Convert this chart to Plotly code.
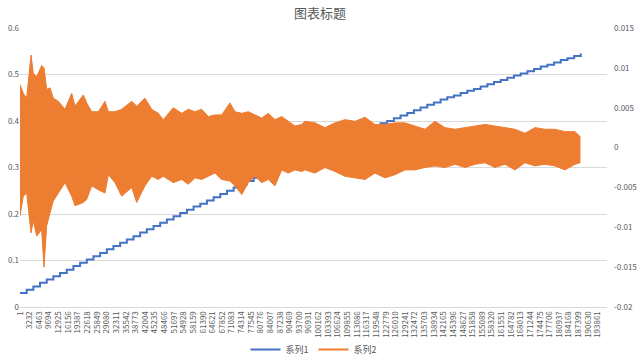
import plotly.graph_objects as go

# ---- data ----
x_tick_labels = [1, 3232, 6463, 9694, 12925, 16156, 19387, 22618, 25849, 29080, 32311, 35542,
                 38773, 42004, 45235, 48466, 51697, 54928, 58159, 61390, 64621, 67852, 71083,
                 74314, 77545, 80776, 84007, 87238, 90469, 93700, 96931, 100162, 103393, 106624,
                 109855, 113086, 116317, 119548, 122779, 126010, 129241, 132472, 135703, 138934,
                 142165, 145396, 148627, 151858, 155089, 158320, 161551, 164782, 168013, 171244,
                 174475, 177706, 180937, 184168, 187399, 190630, 193861]

# 系列1: staircase (left axis)
s1_step_len = 2240
s1_values = [0.030, 0.037, 0.044, 0.052, 0.059, 0.066, 0.073, 0.080, 0.088, 0.095, 0.102,
             0.109, 0.116, 0.124, 0.131, 0.138, 0.145, 0.152, 0.160, 0.167, 0.174,
             0.181, 0.188, 0.195, 0.202, 0.209, 0.216, 0.222, 0.229, 0.236, 0.243, 0.250,
             0.257, 0.264, 0.271, 0.278,
             0.284, 0.290, 0.296, 0.302, 0.309, 0.315, 0.321, 0.327, 0.333, 0.340, 0.346,
             0.352, 0.358, 0.364, 0.371, 0.377, 0.383, 0.389,
             0.395, 0.400, 0.406, 0.412, 0.417, 0.423, 0.429, 0.435, 0.440, 0.446,
             0.451, 0.455, 0.460, 0.465, 0.469, 0.474, 0.479, 0.484, 0.488, 0.493, 0.498,
             0.502, 0.507, 0.512, 0.517, 0.521, 0.526, 0.531, 0.535, 0.540, 0.545]
s1_x = [1 + i * s1_step_len for i in range(len(s1_values))]

# 系列2: dense oscillation (right axis) -- upper / lower envelope
s2_x = [1, 1107, 2248, 3690, 4462, 5603, 7280, 8052, 8958, 10065, 11172, 12850, 15098, 17345,
        18453, 21237, 22378, 24055, 26270, 28518, 29625, 31873, 34120, 37475, 39153, 41938,
        44185, 46400, 48077, 51432, 54250, 56465, 58713, 60960, 63175, 65423, 67670, 70455,
        72133, 74380, 76595, 78843, 81090, 83305, 85553, 87800, 90015, 92263, 94510, 95618,
        98973, 102328, 105683, 109038, 112393, 115748, 119103, 122458, 125813, 129168,
        132523, 135878, 139233, 142588, 145943, 149298, 152653, 156008, 159363, 162718,
        166073, 169428, 172783, 176138, 179493, 182848, 186203, 187880]
s2_upper = [0.0079, 0.0068, 0.0062, 0.0116, 0.0093, 0.0089, 0.0103, 0.0100, 0.0073, 0.0075,
            0.0062, 0.0058, 0.0048, 0.0068, 0.0052, 0.0066, 0.0056, 0.0045, 0.0045, 0.0058,
            0.0045, 0.0045, 0.0048, 0.0058, 0.0052, 0.0062, 0.0048, 0.0043, 0.0035, 0.0050,
            0.0043, 0.0048, 0.0045, 0.0048, 0.0039, 0.0041, 0.0041, 0.0056, 0.0045, 0.0043,
            0.0045, 0.0041, 0.0037, 0.0043, 0.0035, 0.0039, 0.0033, 0.0027, 0.0029, 0.0033,
            0.0031, 0.0025, 0.0031, 0.0035, 0.0033, 0.0038, 0.0029, 0.0029, 0.0031, 0.0031,
            0.0027, 0.0023, 0.0033, 0.0025, 0.0023, 0.0025, 0.0027, 0.0029, 0.0027, 0.0025,
            0.0023, 0.0018, 0.0025, 0.0023, 0.0023, 0.0020, 0.0020, 0.0014]
s2_lower = [-0.0086, -0.0061, -0.0057, -0.0107, -0.0092, -0.0111, -0.0103, -0.0150, -0.0098,
            -0.0082, -0.0067, -0.0057, -0.0044, -0.0061, -0.0073, -0.0069, -0.0065, -0.0048,
            -0.0053, -0.0057, -0.0034, -0.0044, -0.0061, -0.0050, -0.0069, -0.0048, -0.0036,
            -0.0040, -0.0036, -0.0044, -0.0040, -0.0046, -0.0038, -0.0040, -0.0036, -0.0032,
            -0.0040, -0.0042, -0.0048, -0.0059, -0.0044, -0.0036, -0.0044, -0.0040, -0.0048,
            -0.0028, -0.0032, -0.0028, -0.0030, -0.0028, -0.0032, -0.0025, -0.0030, -0.0036,
            -0.0038, -0.0040, -0.0032, -0.0038, -0.0034, -0.0028, -0.0028, -0.0025, -0.0023,
            -0.0025, -0.0021, -0.0025, -0.0021, -0.0019, -0.0025, -0.0021, -0.0028, -0.0019,
            -0.0023, -0.0021, -0.0023, -0.0028, -0.0021, -0.0019]

left_ticks = [0, 0.1, 0.2, 0.3, 0.4, 0.5, 0.6]
left_tick_text = ["0", "0.1", "0.2", "0.3", "0.4", "0.5", "0.6"]
right_ticks = [-0.02, -0.015, -0.01, -0.005, 0, 0.005, 0.01, 0.015]
right_tick_text = ["-0.02", "-0.015", "-0.01", "-0.005", "0", "0.005", "0.01", "0.015"]

BLUE = "#4472C4"
ORANGE = "#ED7D31"
GRAY = "#595959"
FONT = "Noto Sans CJK SC"

fig = go.Figure()

fig.add_trace(go.Scatter(x=s1_x, y=s1_values, mode="lines", line=dict(color=BLUE, width=2, shape="hv"),
                         name="系列1", yaxis="y"))

fig.add_trace(go.Scatter(x=s2_x + s2_x[::-1], y=s2_upper + s2_lower[::-1], mode="lines",
                         fill="toself", fillcolor=ORANGE, line=dict(color=ORANGE, width=1),
                         name="系列2", showlegend=False, yaxis="y2", legendgroup="s2"))
fig.add_trace(go.Scatter(x=[None], y=[None], mode="lines", line=dict(color=ORANGE, width=2),
                         name="系列2", yaxis="y2", legendgroup="s2"))

fig.update_layout(
    width=640, height=355,
    margin=dict(l=20, r=33, t=28, b=48, autoexpand=False),
    paper_bgcolor="white", plot_bgcolor="white",
    font=dict(family=FONT, color=GRAY, size=9),
    title=dict(text="图表标题", x=0.5, xanchor="center", y=0.962, yanchor="middle",
               font=dict(size=13, color=GRAY, family=FONT)),
    xaxis=dict(range=[0, 196950], tickmode="array", tickvals=x_tick_labels,
               ticktext=[str(v) for v in x_tick_labels], tickangle=-90,
               tickfont=dict(size=8, color=GRAY), showgrid=False, zeroline=False,
               showline=True, linecolor="#d9d9d9", linewidth=1, ticks="", automargin=False),
    yaxis=dict(range=[0, 0.6], tickmode="array", tickvals=left_ticks, ticktext=left_tick_text,
               showgrid=True, gridcolor="#d9d9d9", gridwidth=1, zeroline=False,
               tickfont=dict(size=8, color=GRAY), ticks="", showline=False, automargin=False),
    yaxis2=dict(range=[-0.02, 0.015], tickmode="array", tickvals=right_ticks,
                ticktext=right_tick_text, overlaying="y", side="right", showgrid=False,
                zeroline=False, tickfont=dict(size=8, color=GRAY), ticks="", ticklabelstandoff=6,
                automargin=False),
    legend=dict(orientation="h", x=0.5, xanchor="center", y=-0.152, yanchor="middle",
                font=dict(size=9, color=GRAY), itemwidth=30, bgcolor="rgba(0,0,0,0)"),
)

fig.write_html("out.html")
